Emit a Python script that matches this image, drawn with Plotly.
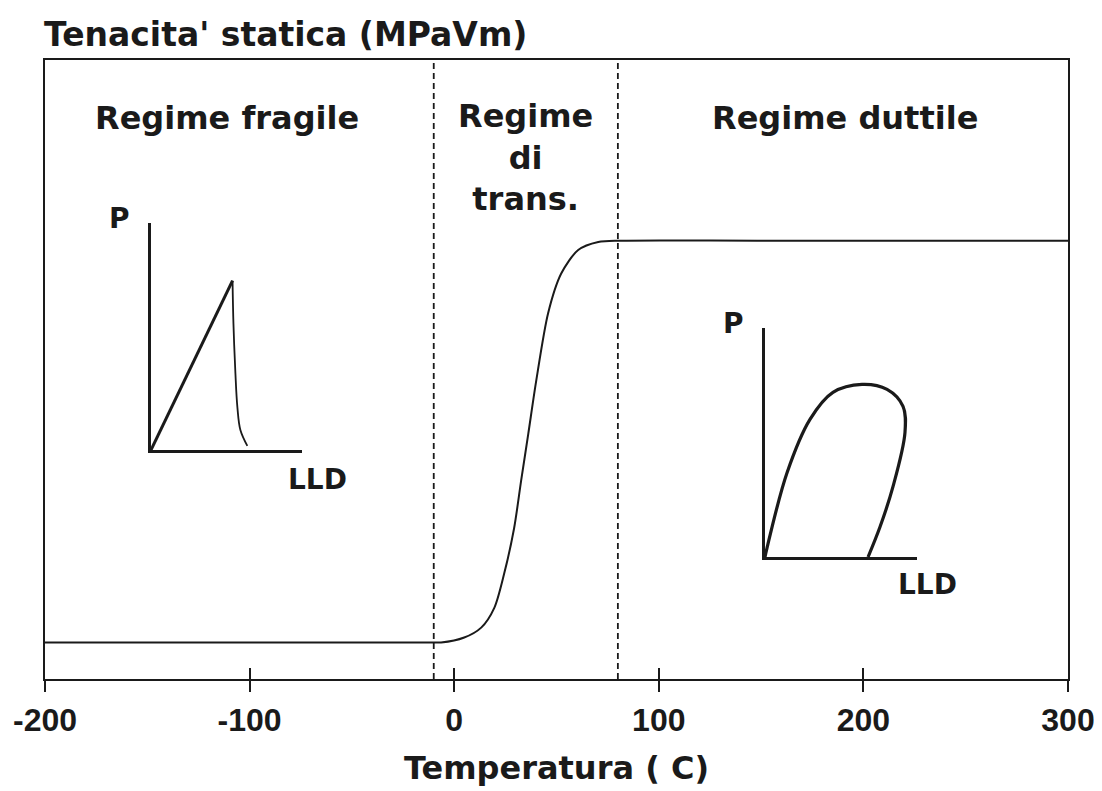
import plotly.graph_objects as go

# ---- data ----
temperature = [-200, -100, -10, -6.4, 4.9, 13.2, 19.6, 24.4, 29.3, 32.7, 36.2, 40.1, 45.9, 52.3, 60.6, 70.4, 81.6, 150, 300]
toughness = [5.9, 5.9, 5.9, 5.9, 6.7, 8.3, 11.5, 17.0, 24.4, 32.0, 39.6, 48.2, 59.1, 65.5, 69.3, 70.6, 70.8, 70.8, 70.8]

transition_bounds = [-10, 80]

x_ticks = [-200, -100, 0, 100, 200, 300]
x_tick_labels = ["-200", "-100", "0", "100", "200", "300"]

regime_labels = ["Regime fragile", "Regime<br>di<br>trans.", "Regime duttile"]
regime_x = [-111, 35, 191]
regime_y = [90.7, 84.3, 90.7]

# inset: brittle load vs load-line displacement
brittle_rise_lld = [0, 0.54]
brittle_rise_p = [0, 0.746]
brittle_drop_lld = [0.54, 0.546, 0.559, 0.572, 0.592, 0.638]
brittle_drop_p = [0.746, 0.556, 0.338, 0.189, 0.088, 0.018]

# inset: ductile load vs load-line displacement
ductile_lld = [0, 0.013, 0.145, 0.296, 0.447, 0.638, 0.803, 0.908, 0.921, 0.842, 0.757, 0.678]
ductile_p = [0, 0.039, 0.368, 0.601, 0.719, 0.754, 0.732, 0.658, 0.544, 0.307, 0.132, 0.0]

INK = "#1a1a1a"
TXT = dict(family="DejaVu Sans", size=32, color=INK, weight="bold")

fig = go.Figure()

# main curve
fig.add_trace(go.Scatter(x=temperature, y=toughness, mode="lines",
                         line=dict(color=INK, width=2, shape="spline", smoothing=0.8),
                         hoverinfo="skip", showlegend=False))

# dashed transition bounds
for xb in transition_bounds:
    fig.add_trace(go.Scatter(x=[xb, xb], y=[0, 100], mode="lines",
                             line=dict(color=INK, width=1.8, dash="6px,4px"),
                             hoverinfo="skip", showlegend=False))

# dummy trace for the inside-tick overlay axis
fig.add_trace(go.Scatter(x=[0], y=[None], xaxis="x3", yaxis="y", mode="lines",
                         hoverinfo="skip", showlegend=False))

# inset 1
fig.add_trace(go.Scatter(x=brittle_rise_lld, y=brittle_rise_p, xaxis="x2", yaxis="y2", mode="lines",
                         line=dict(color=INK, width=3), hoverinfo="skip", showlegend=False))
fig.add_trace(go.Scatter(x=brittle_drop_lld, y=brittle_drop_p, xaxis="x2", yaxis="y2", mode="lines",
                         line=dict(color=INK, width=1.8, shape="spline"), hoverinfo="skip", showlegend=False))

# inset 2
fig.add_trace(go.Scatter(x=ductile_lld, y=ductile_p, xaxis="x4", yaxis="y4", mode="lines",
                         line=dict(color=INK, width=3.2, shape="spline", smoothing=1.0),
                         hoverinfo="skip", showlegend=False))

# page offset (body margin) compensation
OFF = 8
W, H = 1102 - OFF, 791 - OFF
ml, mt = 45 - OFF, 60 - OFF
mr = W - (1068 - OFF)
mb = H - (679 - OFF)
pw, ph = W - ml - mr, H - mt - mb


def dom_x(a, b):
    return [(a - OFF - ml) / pw, (b - OFF - ml) / pw]


def dom_y(top, bottom):
    return [(H - mb - (bottom - OFF)) / ph, (H - mb - (top - OFF)) / ph]


inset_axis = dict(range=[0, 1], showgrid=False, zeroline=False, showticklabels=False,
                  ticks="", showline=True, linecolor=INK, linewidth=3.2, automargin=False)

fig.update_layout(
    width=W, height=H,
    margin=dict(l=ml, r=mr, t=mt, b=mb, autoexpand=False),
    paper_bgcolor="white", plot_bgcolor="rgba(0,0,0,0)",
    xaxis=dict(range=[-200, 300], tickvals=x_ticks, ticktext=x_tick_labels,
               ticks="outside", ticklen=11, tickwidth=1.5, tickcolor=INK,
               tickfont=dict(family="Liberation Sans", size=32, color=INK, weight="bold"),
               ticklabelstandoff=0, automargin=False,
               showline=True, linecolor=INK, linewidth=2.2, mirror=True,
               showgrid=False, zeroline=False,
               title=dict(text="Temperatura ( C)", font=TXT, standoff=20)),
    xaxis3=dict(range=[-200, 300], matches="x", overlaying="x", anchor="y", side="bottom",
                tickvals=x_ticks, ticks="inside", ticklen=11, tickwidth=1.5, tickcolor=INK,
                showticklabels=False, showgrid=False, zeroline=False, showline=False,
                automargin=False),
    yaxis=dict(range=[0, 100], showticklabels=False, ticks="", showgrid=False, zeroline=False,
               showline=True, linecolor=INK, linewidth=2.2, mirror=True, automargin=False),
    xaxis2=dict(domain=dom_x(151, 302), anchor="y2", **inset_axis),
    yaxis2=dict(domain=dom_y(223, 450), anchor="x2", **inset_axis),
    xaxis4=dict(domain=dom_x(765, 917), anchor="y4", **inset_axis),
    yaxis4=dict(domain=dom_y(328, 557), anchor="x4", **inset_axis),
)

annotations = []
# y-axis title at top-left
annotations.append(dict(text="Tenacita' statica (MPaVm)", xref="paper", yref="paper",
                        x=0, y=1, xanchor="left", yanchor="bottom", yshift=4, xshift=-3,
                        showarrow=False, font=dict(TXT, size=33)))
for t, x, y in zip(regime_labels, regime_x, regime_y):
    annotations.append(dict(text=t, x=x, y=y, xref="x", yref="y", showarrow=False,
                            xanchor="center", yanchor="middle", font=TXT, align="center"))
# inset labels
ISZ = dict(family="DejaVu Sans", size=28, color=INK, weight="bold")
inset_labels = [("P", "x2", "y2", -0.21, 1.02), ("LLD", "x2", "y2", 1.10, -0.13),
                ("P", "x4", "y4", -0.21, 1.02), ("LLD", "x4", "y4", 1.07, -0.12)]
for t, xa, ya, xx, yy in inset_labels:
    annotations.append(dict(text=t, xref=xa + " domain", yref=ya + " domain", x=xx, y=yy,
                            xanchor="center", yanchor="middle", showarrow=False, font=ISZ))
fig.update_layout(annotations=annotations)

fig.write_html("out.html")
